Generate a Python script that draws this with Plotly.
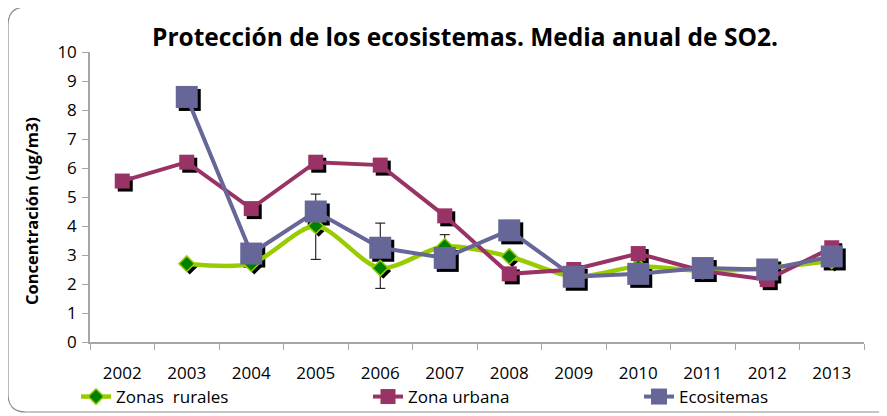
import plotly.graph_objects as go

years = ["2002", "2003", "2004", "2005", "2006", "2007", "2008", "2009", "2010", "2011", "2012", "2013"]
rurales = [None, 2.7, 2.7, 4.0, 2.55, 3.3, 2.95, 2.25, 2.6, 2.45, 2.55, 2.8]
rurales_err_plus = [0, 0, 0, 1.1, 1.55, 0.4, 0, 0, 0, 0, 0, 0]
rurales_err_minus = [0, 0, 0, 1.15, 0.7, 0.4, 0, 0, 0, 0, 0, 0]
urbana = [5.55, 6.2, 4.6, 6.2, 6.1, 4.35, 2.35, 2.5, 3.05, 2.45, 2.15, 3.25]
ecosistemas = [None, 8.45, 3.05, 4.5, 3.25, 2.9, 3.85, 2.25, 2.35, 2.55, 2.5, 2.95]
y_ticks = [0, 1, 2, 3, 4, 5, 6, 7, 8, 9, 10]

FONT = "Open Sans"
OFF = 8  # page body margin
W, H = 887, 416
# plot area in screen pixels: x 90..864, y 52..342
SX0, SX1, SY0, SY1 = 90, 864, 52, 342
L = SX0 - OFF
T = SY0 - OFF
R = W - (SX1 - OFF)
B = H - (SY1 - OFF)
plot_w = W - L - R
plot_h = H - T - B
n = len(years)
px_per_cat = plot_w / n
px_per_unit = plot_h / 10.0
SH = 3  # shadow offset in pixels
dx = SH / px_per_cat
dy = SH / px_per_unit

GREEN_LINE = "#99CC00"
GREEN_FILL = "#008000"
URB = "#993366"
ECO = "#666699"


def px2paper(sx, sy):
    """screen pixel -> paper coords"""
    return (sx - SX0) / plot_w, (SY1 - sy) / plot_h


fig = go.Figure()

# marker shadows (hidden base axes x/y, shifted by a few pixels)
shadow_specs = [
    (rurales, "diamond", 12),
    (urbana, "square", 15),
    (ecosistemas, "square", 22),
]
for vals, sym, size in shadow_specs:
    fig.add_trace(go.Scatter(
        x=years, y=vals, mode="markers", xaxis="x", yaxis="y",
        marker=dict(symbol=sym, size=size, color="black"),
        showlegend=False, hoverinfo="skip"))

fig.add_trace(go.Scatter(
    x=years, y=rurales, name="Zonas  rurales", mode="lines+markers",
    xaxis="x2", yaxis="y2", legend="legend",
    line=dict(color=GREEN_LINE, width=4.5, shape="spline", smoothing=0.8),
    marker=dict(symbol="diamond", size=12, color=GREEN_FILL, line=dict(color=GREEN_LINE, width=1.5)),
    error_y=dict(type="data", symmetric=False, array=rurales_err_plus, arrayminus=rurales_err_minus,
                 color="black", thickness=1, width=5)))
fig.add_trace(go.Scatter(
    x=years, y=urbana, name="Zona urbana", mode="lines+markers",
    xaxis="x2", yaxis="y2", legend="legend2",
    line=dict(color=URB, width=4),
    marker=dict(symbol="square", size=15, color=URB)))
fig.add_trace(go.Scatter(
    x=years, y=ecosistemas, name="Ecositemas", mode="lines+markers",
    xaxis="x2", yaxis="y2", legend="legend3",
    line=dict(color=ECO, width=4),
    marker=dict(symbol="square", size=22, color=ECO)))

# rounded chart border (screen pixels)
x0, y0, x1, y1, r = 8, 7, 900, 412, 18
pts = {
    "a": px2paper(x0 + r, y0), "b": px2paper(x1, y0), "c": px2paper(x1, y1),
    "d": px2paper(x0 + r, y1), "e": px2paper(x0, y1), "f": px2paper(x0, y1 - r),
    "g": px2paper(x0, y0 + r), "h": px2paper(x0, y0),
}
path = (f"M {pts['a'][0]},{pts['a'][1]} L {pts['b'][0]},{pts['b'][1]} "
        f"L {pts['c'][0]},{pts['c'][1]} L {pts['d'][0]},{pts['d'][1]} "
        f"Q {pts['e'][0]},{pts['e'][1]} {pts['f'][0]},{pts['f'][1]} "
        f"L {pts['g'][0]},{pts['g'][1]} "
        f"Q {pts['h'][0]},{pts['h'][1]} {pts['a'][0]},{pts['a'][1]} Z")
fig.add_shape(type="path", xref="paper", yref="paper", path=path,
              line=dict(color="#8c8c8c", width=1.2), fillcolor="rgba(0,0,0,0)", layer="below")

# y-axis title as annotation
tx, ty = px2paper(31, 211)
fig.add_annotation(text="<b>Concentración (ug/m3)</b>", xref="paper", yref="paper",
                   x=tx, y=ty, xanchor="center", yanchor="middle", textangle=-90,
                   showarrow=False, font=dict(family=FONT, size=16.5, color="black"))

axis_color = "#a6a6a6"
legend_common = dict(orientation="h", xanchor="left", yanchor="middle",
                     font=dict(family=FONT, size=17, color="black"),
                     bgcolor="rgba(0,0,0,0)", borderwidth=0)
ly = px2paper(0, 397)[1]

fig.update_layout(
    width=W, height=H, autosize=False,
    margin=dict(l=L, r=R, t=T, b=B, autoexpand=False),
    paper_bgcolor="white", plot_bgcolor="white",
    font=dict(family=FONT, color="black"),
    title=dict(text="<b>Protección de los ecosistemas. Media anual de SO2.</b>",
               font=dict(family=FONT, size=24.5, color="black"),
               x=(465 - OFF) / W, xanchor="center", y=1 - (37 - OFF) / H, yanchor="middle"),
    xaxis=dict(type="category", range=[-0.5 - dx, n - 0.5 - dx], visible=False),
    yaxis=dict(range=[0 + dy, 10 + dy], visible=False),
    xaxis2=dict(type="category", overlaying="x", anchor="y2", range=[-0.5, n - 0.5],
                showline=True, linecolor=axis_color, linewidth=1.5,
                ticks="outside", ticklen=6, tickcolor=axis_color, tickson="boundaries",
                showgrid=False, zeroline=False,
                tickfont=dict(family=FONT, size=17, color="black"),
                ticklabelstandoff=15),
    yaxis2=dict(overlaying="y", anchor="x2", side="left", range=[0, 10],
                tickvals=y_ticks, showline=True, linecolor=axis_color, linewidth=1.5,
                ticks="outside", ticklen=6, tickcolor=axis_color,
                showgrid=False, zeroline=False,
                tickfont=dict(family=FONT, size=17, color="black"),
                ticklabelstandoff=2),
    legend=dict(x=px2paper(76, 0)[0], y=ly, **legend_common),
    legend2=dict(x=px2paper(368, 0)[0], y=ly, **legend_common),
    legend3=dict(x=px2paper(639, 0)[0], y=ly, **legend_common),
    showlegend=True,
)

fig.write_html("out.html")
